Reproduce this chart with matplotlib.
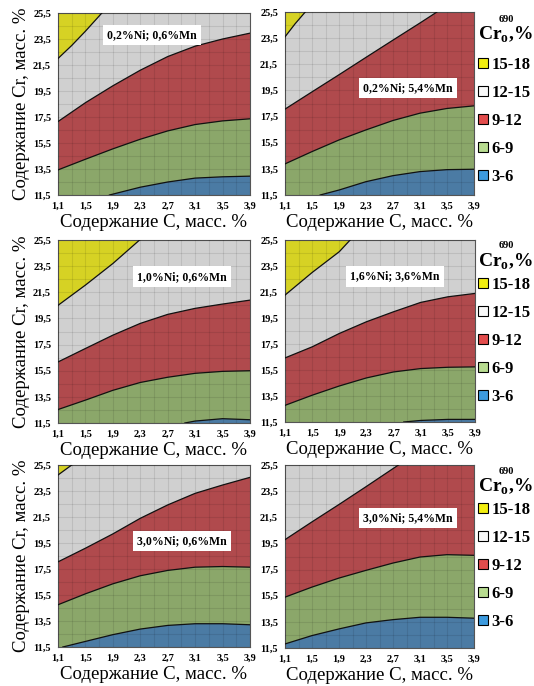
import numpy as np
import matplotlib
matplotlib.use('Agg')
import matplotlib.pyplot as plt
from matplotlib.patches import Patch
from matplotlib.ticker import FixedLocator

plt.rcParams['font.family'] = 'Liberation Serif'
plt.rcParams['font.weight'] = 'bold'
plt.rcParams['mathtext.fontset'] = 'custom'
plt.rcParams['mathtext.rm'] = 'Liberation Serif:bold'
plt.rcParams['mathtext.bf'] = 'Liberation Serif:bold'

# axis ticks
X_TICKS = [1.1, 1.5, 1.9, 2.3, 2.7, 3.1, 3.5, 3.9]
Y_TICKS = [11.5, 13.5, 15.5, 17.5, 19.5, 21.5, 23.5, 25.5]
C_GRID = X_TICKS

LEVEL_LABELS = ['15-18', '12-15', '9-12', '6-9', '3-6']
PANEL_TITLES = ['0,2%Ni; 0,6%Mn', '0,2%Ni; 5,4%Mn',
                '1,0%Ni; 0,6%Mn', '1,6%Ni; 3,6%Mn',
                '3,0%Ni; 0,6%Mn', '3,0%Ni; 5,4%Mn']

# boundary curves (Cr, % vs C, %)
# panel 1
P1_X15 = [1.1, 1.3, 1.5, 1.74]
P1_Y15 = [22.0, 23.0, 24.1, 25.5]
P1_X12 = C_GRID
P1_Y12 = [17.15, 18.6, 19.9, 21.1, 22.15, 22.95, 23.5, 23.95]
P1_Y9 = [13.43, 14.25, 15.05, 15.79, 16.43, 16.92, 17.2, 17.36]
P1_X6 = [1.85, 2.3, 2.7, 3.1, 3.5, 3.9]
P1_Y6 = [11.5, 12.1, 12.5, 12.8, 12.9, 12.95]
# panel 2
P2_X15 = [1.1, 1.25, 1.4]
P2_Y15 = [23.6, 24.6, 25.5]
P2_X12 = [1.1, 1.5, 1.9, 2.3, 2.7, 3.1, 3.35]
P2_Y12 = [18.07, 19.39, 20.7, 22.03, 23.35, 24.66, 25.5]
P2_Y9 = [13.88, 14.82, 15.71, 16.48, 17.2, 17.76, 18.12, 18.32]
P2_X6 = [1.62, 1.9, 2.3, 2.7, 3.1, 3.5, 3.9]
P2_Y6 = [11.5, 11.88, 12.52, 12.98, 13.29, 13.44, 13.47]
# panel 3
P3_X15 = [1.1, 1.5, 1.9, 2.29]
P3_Y15 = [20.5, 22.05, 23.7, 25.5]
P3_X12 = C_GRID
P3_Y12 = [16.17, 17.2, 18.22, 19.12, 19.81, 20.27, 20.6, 20.9]
P3_Y9 = [12.53, 13.25, 14.0, 14.6, 15.0, 15.3, 15.45, 15.5]
P3_X6 = [2.95, 3.1, 3.5, 3.9]
P3_Y6 = [11.5, 11.65, 11.83, 11.75]
# panel 4
P4_X15 = [1.1, 1.5, 1.9, 2.06]
P4_Y15 = [21.26, 23.0, 24.6, 25.5]
P4_X12 = C_GRID
P4_Y12 = [16.43, 17.28, 18.31, 19.21, 19.98, 20.7, 21.13, 21.39]
P4_Y9 = [12.78, 13.56, 14.27, 14.89, 15.35, 15.61, 15.71, 15.74]
P4_X6 = [2.85, 3.1, 3.5, 3.9]
P4_Y6 = [11.5, 11.62, 11.7, 11.7]
# panel 5
P5_X15 = [1.1, 1.3]
P5_Y15 = [24.73, 25.5]
P5_X12 = C_GRID
P5_Y12 = [18.05, 19.1, 20.2, 21.4, 22.43, 23.32, 23.96, 24.55]
P5_Y9 = [14.75, 15.59, 16.36, 16.98, 17.39, 17.64, 17.69, 17.64]
P5_X6 = [1.17, 1.5, 1.9, 2.3, 2.7, 3.1, 3.5, 3.9]
P5_Y6 = [11.5, 11.93, 12.45, 12.88, 13.16, 13.29, 13.29, 13.21]
# panel 6
P6_X12 = [1.1, 1.5, 1.9, 2.3, 2.78]
P6_Y12 = [19.79, 21.15, 22.48, 23.84, 25.5]
P6_Y9 = [15.39, 16.16, 16.85, 17.44, 18.0, 18.46, 18.64, 18.59]
P6_Y6 = [11.81, 12.45, 12.96, 13.42, 13.67, 13.85, 13.85, 13.78]

panels = [
    dict(c15=(P1_X15, P1_Y15), c12=(P1_X12, P1_Y12), c9=(C_GRID, P1_Y9), c6=(P1_X6, P1_Y6)),
    dict(c15=(P2_X15, P2_Y15), c12=(P2_X12, P2_Y12), c9=(C_GRID, P2_Y9), c6=(P2_X6, P2_Y6)),
    dict(c15=(P3_X15, P3_Y15), c12=(P3_X12, P3_Y12), c9=(C_GRID, P3_Y9), c6=(P3_X6, P3_Y6)),
    dict(c15=(P4_X15, P4_Y15), c12=(P4_X12, P4_Y12), c9=(C_GRID, P4_Y9), c6=(P4_X6, P4_Y6)),
    dict(c15=(P5_X15, P5_Y15), c12=(P5_X12, P5_Y12), c9=(C_GRID, P5_Y9), c6=(P5_X6, P5_Y6)),
    dict(c15=None, c12=(P6_X12, P6_Y12), c9=(C_GRID, P6_Y9), c6=(C_GRID, P6_Y6)),
]

FILL_COLORS = {'15': '#d6d224', '12': '#d0d0d0', '9': '#b04a4d', '6': '#8ba76a', '3': '#4b7ba4'}
LEG_COLORS = ['#f2ee10', '#f8f8f8', '#e24c4c', '#b8dc90', '#3c9ade']

# axes boxes in pixels: left, top, right, bottom
BOXES = [(58, 13, 250, 195), (285, 12, 474, 195),
         (58, 240, 250, 423), (285, 240, 475, 422),
         (58, 465, 250, 647), (285, 465, 474, 648)]
TITLE_POS = [(0.49, 0.879), (0.65, 0.585), (0.644, 0.80),
             (0.58, 0.80), (0.644, 0.582), (0.65, 0.71)]
# legend rows: title centre and top of the entry block (pixels)
LEG_TITLE_Y = [35, 262, 487]
LEG_TOP_Y = [54, 274, 499]

W, H = 534, 686
XMIN, XMAX = X_TICKS[0], X_TICKS[-1]
YMIN, YMAX = Y_TICKS[0], Y_TICKS[-1]


def fill_below(ax, xs, ys, color):
    vx = list(xs) + [XMAX, XMAX, XMIN]
    vy = list(ys) + [ys[-1], YMIN, YMIN]
    ax.fill(vx, vy, color=color, lw=0, zorder=1)


def fill_above(ax, xs, ys, color):
    vx = list(xs) + [XMIN]
    vy = list(ys) + [YMAX]
    ax.fill(vx, vy, color=color, lw=0, zorder=1)


def fmt(v):
    return f'{v:.1f}'.replace('.', ',')


fig = plt.figure(figsize=(W / 100, H / 100), dpi=100)

for i, (pan, box) in enumerate(zip(panels, BOXES)):
    l, t, r, b = box
    ax = fig.add_axes([l / W, 1 - b / H, (r - l) / W, (b - t) / H])
    ax.set_xlim(XMIN, XMAX)
    ax.set_ylim(YMIN, YMAX)
    ax.set_facecolor(FILL_COLORS['12'])

    fill_below(ax, *pan['c12'], FILL_COLORS['9'])
    fill_below(ax, *pan['c9'], FILL_COLORS['6'])
    if pan['c6'] is not None:
        fill_below(ax, *pan['c6'], FILL_COLORS['3'])
    if pan['c15'] is not None:
        fill_above(ax, *pan['c15'], FILL_COLORS['15'])
    for key in ['c15', 'c12', 'c9', 'c6']:
        if pan[key] is not None:
            ax.plot(*pan[key], color='#111111', lw=0.9, zorder=3)

    ax.set_xticks(X_TICKS, labels=[fmt(v) for v in X_TICKS])
    ax.set_yticks(Y_TICKS, labels=[fmt(v) for v in Y_TICKS])
    ax.xaxis.set_minor_locator(FixedLocator(np.arange(XMIN, XMAX + 0.01, 0.2)))
    ax.yaxis.set_minor_locator(FixedLocator(np.arange(YMIN, YMAX + 0.01, 1.0)))
    ax.grid(which='both', color='black', alpha=0.09, lw=0.8)
    ax.set_axisbelow(False)
    ax.tick_params(which='both', length=0, labelsize=7.5, pad=5)
    for sp in ax.spines.values():
        sp.set_color('#555555')
        sp.set_linewidth(0.8)

    ax.set_xlabel('Содержание С, масс. %', fontsize=13.5, labelpad=2)
    if i % 2 == 0:
        ax.set_ylabel('Содержание Cr, масс. %', fontsize=13.5, labelpad=2)

    ax.text(*TITLE_POS[i], PANEL_TITLES[i], transform=ax.transAxes,
            ha='center', va='center', fontsize=8.5, zorder=5,
            bbox=dict(boxstyle='square,pad=0.35', fc='white', ec='none'))

# legends on the right of each row
handles = [Patch(facecolor=c, edgecolor='black', lw=0.8) for c in LEG_COLORS]
for ty, ly in zip(LEG_TITLE_Y, LEG_TOP_Y):
    # legend title: Cr with subscript o and 690 on top
    fig.text(478 / W, 1 - ty / H, r'$\mathbf{Cr}_{\mathbf{o}}$,%',
             fontsize=14, ha='left', va='center')
    fig.text(506 / W, 1 - (ty - 16) / H, '690', fontsize=7.5,
             ha='center', va='center')
    fig.legend(handles, LEVEL_LABELS, loc='upper left',
               bbox_to_anchor=(475 / W, 1 - ly / H),
               frameon=False, fontsize=12,
               handlelength=0.55, handleheight=0.55, handletextpad=0.25,
               labelspacing=0.72, borderaxespad=0, borderpad=0.2)

fig.savefig('out.png', dpi=100)
